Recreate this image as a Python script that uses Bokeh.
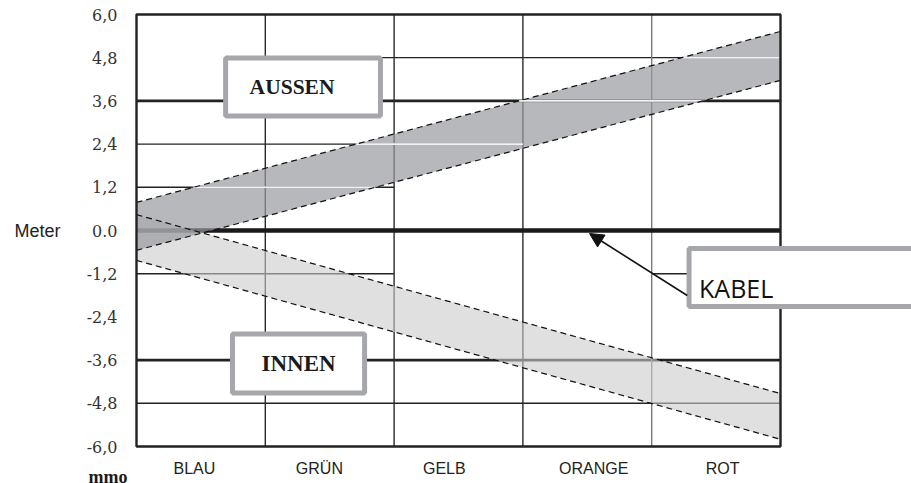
from bokeh.plotting import figure
from bokeh.models import Range1d, FixedTicker, Label, Arrow, NormalHead
from bokeh.embed import file_html
from bokeh.resources import INLINE

# ---- data ----
categories = ["BLAU", "GRÜN", "GELB", "ORANGE", "ROT"]
category_label_pos = [0.45, 1.42, 2.39, 3.55, 4.55]
y_ticks = [-6.0, -4.8, -3.6, -2.4, -1.2, 0.0, 1.2, 2.4, 3.6, 4.8, 6.0]
y_tick_labels = ["-6,0", "-4,8", "-3,6", "-2,4", "-1,2", "0.0", "1,2", "2,4", "3,6", "4,8", "6,0"]

band_x = [0, 5]
aussen_upper = [0.78, 5.53]
aussen_lower = [-0.55, 4.17]
innen_upper = [0.44, -4.53]
innen_lower = [-0.83, -5.80]
kabel = [0.0, 0.0]

# horizontal grid segments: level, x from, x to, width
hgrid_level = [4.8, 3.6, 2.4, 1.2, -1.2, -1.2, -3.6, -4.8]
hgrid_x0 = [1.9, 0.0, 0.0, 0.0, 0.0, 4.0, 0.0, 0.0]
hgrid_x1 = [5.0, 5.0, 3.0, 2.0, 2.0, 5.0, 5.0, 5.0]
hgrid_w = [1.3, 2.6, 1.4, 1.4, 1.4, 1.4, 2.6, 1.4]
vgrid_x = [1, 2, 3, 4]
vgrid_color = ["#2a2a2a", "#2a2a2a", "#2a2a2a", "#7a7a7a"]

W, H = 911, 483
PX_X, PX_Y = 128.8, 36.0          # pixels per data unit
LEFT, TOP = 136, 14               # where x=0 / y=6 sit on the canvas

p = figure(width=W, height=H, output_backend="svg", toolbar_location=None,
           x_range=Range1d(-LEFT / PX_X, (W - LEFT) / PX_X),
           y_range=Range1d(6 - (H - TOP) / PX_Y, 6 + TOP / PX_Y),
           min_border=0, min_border_left=0, min_border_right=0,
           min_border_top=0, min_border_bottom=0)
p.grid.visible = False
p.background_fill_color = "white"
p.border_fill_color = "white"
p.outline_line_color = None

# gridlines
p.segment(x0=hgrid_x0, y0=hgrid_level, x1=hgrid_x1, y1=hgrid_level,
          line_color="#222222", line_width=hgrid_w)
p.segment(x0=vgrid_x, y0=[-6] * 4, x1=vgrid_x, y1=[6] * 4,
          line_color=vgrid_color, line_width=1.4)

# cable line
p.line(band_x, kabel, line_color="#1a1a1a", line_width=4.5)

# bands
p.varea(x=band_x, y1=innen_lower, y2=innen_upper, fill_color="#cbcbcb", fill_alpha=0.6)
p.varea(x=band_x, y1=aussen_lower, y2=aussen_upper, fill_color="#989a9e", fill_alpha=0.7)

# white grid traces inside the AUSSEN band
su = (aussen_upper[1] - aussen_upper[0]) / (band_x[1] - band_x[0])
sl = (aussen_lower[1] - aussen_lower[0]) / (band_x[1] - band_x[0])
wx0, wx1, wy = [], [], []
for lev, a, b in zip(hgrid_level, hgrid_x0, hgrid_x1):
    lo = (lev - aussen_upper[0]) / su
    hi = (lev - aussen_lower[0]) / sl
    lo, hi = max(lo, a), min(hi, b)
    if hi > lo:
        wx0.append(lo); wx1.append(hi); wy.append(lev)
p.segment(x0=wx0, y0=wy, x1=wx1, y1=wy, line_color="#f2f2f2", line_width=1.6)

# dashed band edges
for ys in (aussen_upper, aussen_lower, innen_upper, innen_lower):
    p.line(band_x, ys, line_color="#111111", line_width=1.2, line_dash="6 4")

# plot border
p.quad(left=[0], right=[5], bottom=[-6], top=[6], fill_color=None,
       line_color="#222222", line_width=2.4)

# axes (drawn at fixed data locations)
p.yaxis.fixed_location = 0
p.yaxis.ticker = FixedTicker(ticks=y_ticks)
p.yaxis.major_label_overrides = {t: l for t, l in zip(y_ticks, y_tick_labels)}
p.yaxis.major_label_text_font = "DejaVu Serif"
p.yaxis.major_label_text_font_size = "16px"
p.yaxis.major_label_text_color = "#333333"
p.yaxis.major_label_standoff = 19

p.xaxis.fixed_location = -6
p.xaxis.ticker = FixedTicker(ticks=category_label_pos)
p.xaxis.major_label_overrides = {t: c for t, c in zip(category_label_pos, categories)}
p.xaxis.major_label_text_font = "Liberation Sans"
p.xaxis.major_label_text_font_size = "16px"
p.xaxis.major_label_text_color = "#222222"
p.xaxis.major_label_standoff = 13

for ax in (p.xaxis[0], p.yaxis[0]):
    ax.axis_line_color = None
    ax.major_tick_line_color = None
    ax.minor_tick_line_color = None
    ax.major_tick_out = 0
    ax.major_tick_in = 0
    ax.minor_tick_out = 0
    ax.minor_tick_in = 0

# annotations
p.add_layout(Label(x=-0.947, y=0.0, text="Meter", text_align="left", text_baseline="middle",
                   text_font="Liberation Sans", text_font_size="18px", text_color="#222222"))
p.add_layout(Label(x=-0.373, y=-6.84, text="mmo", text_align="left", text_baseline="alphabetic",
                   text_font="Liberation Serif", text_font_style="bold", text_font_size="18px",
                   text_color="#1a1a1a"))
p.add_layout(Label(x=1.293, y=3.986, text="AUSSEN", text_align="center", text_baseline="middle",
                   text_font="Liberation Serif", text_font_style="bold", text_font_size="21.5px",
                   text_color="#1a1a1a", background_fill_color="white",
                   border_line_color="#a6a7aa", border_line_width=5,
                   padding=dict(left=24, right=46, top=17, bottom=17)))
p.add_layout(Label(x=1.258, y=-3.694, text="INNEN", text_align="center", text_baseline="middle",
                   text_font="Liberation Serif", text_font_style="bold", text_font_size="23px",
                   text_color="#1a1a1a", background_fill_color="white",
                   border_line_color="#a6a7aa", border_line_width=5,
                   padding=dict(left=29, right=29, top=17, bottom=17)))
p.add_layout(Label(x=4.29, y=-1.306, text="KABEL", text_align="left", text_baseline="middle",
                   text_font="Open Sans", text_font_size="25px",
                   text_color="#111111", background_fill_color="white",
                   border_line_color="#a6a7aa", border_line_width=5,
                   padding=dict(left=10, right=200, top=22, bottom=2)))
p.add_layout(Arrow(end=NormalHead(size=14, fill_color="#111111", line_color="#111111"),
                   x_start=4.276, y_start=-1.806, x_end=3.517, y_end=-0.083,
                   line_color="#111111", line_width=1.6))

open("out.html", "w").write(file_html(p, INLINE))
